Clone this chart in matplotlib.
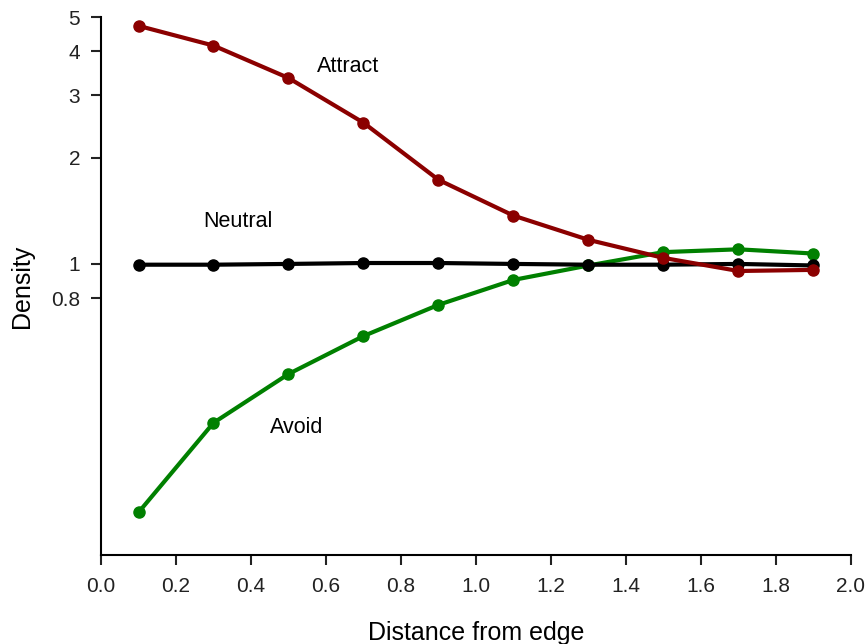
import matplotlib.pyplot as plt

plt.rcParams['font.family'] = ['Liberation Sans', 'DejaVu Sans']

# Dados
distance = [0.1, 0.3, 0.5, 0.7, 0.9, 1.1, 1.3, 1.5, 1.7, 1.9]
attract = [4.72, 4.15, 3.36, 2.51, 1.73, 1.37, 1.17, 1.04, 0.955, 0.962]
neutral = [0.995, 0.995, 1.0, 1.006, 1.006, 1.0, 0.995, 0.995, 1.0, 0.99]
avoid = [0.198, 0.355, 0.488, 0.625, 0.766, 0.901, 0.99, 1.08, 1.10, 1.07]

y_ticks = [0.8, 1, 2, 3, 4, 5]
y_tick_labels = ['0.8', '1', '2', '3', '4', '5']
x_ticks = [0.0, 0.2, 0.4, 0.6, 0.8, 1.0, 1.2, 1.4, 1.6, 1.8, 2.0]

fig = plt.figure(figsize=(8.67, 6.44), dpi=100)
ax = fig.add_axes([0.1165, 0.1382, 0.865, 0.8354])

ax.plot(distance, avoid, color='#008000', lw=3, marker='o', ms=8)
ax.plot(distance, neutral, color='black', lw=3, marker='o', ms=8)
ax.plot(distance, attract, color='#8b0000', lw=3, marker='o', ms=8)

ax.set_yscale('log')
ax.set_ylim(0.15, 5)
ax.set_xlim(0, 2.0)
ax.set_yticks(y_ticks)
ax.set_yticklabels(y_tick_labels)
ax.minorticks_off()
ax.set_xticks(x_ticks)
ax.set_xticklabels([f'{t:.1f}' for t in x_ticks])

for s in ['top', 'right']:
    ax.spines[s].set_visible(False)
for s in ['left', 'bottom']:
    ax.spines[s].set_linewidth(1.5)
ax.tick_params(direction='out', length=7, width=1.5, labelsize=15, colors='#222222')
ax.tick_params(axis='x', pad=9)
ax.tick_params(axis='y', pad=8)

ax.text(0.659, 3.61, 'Attract', fontsize=15.5, ha='center', va='center')
ax.text(0.365, 1.32, 'Neutral', fontsize=15.5, ha='center', va='center')
ax.text(0.523, 0.345, 'Avoid', fontsize=15.5, ha='center', va='center')

ax.set_xlabel('Distance from edge', fontsize=18, labelpad=18)
ax.set_ylabel('Density', fontsize=18, labelpad=12)

plt.savefig('out.png', dpi=100)
plt.close()
